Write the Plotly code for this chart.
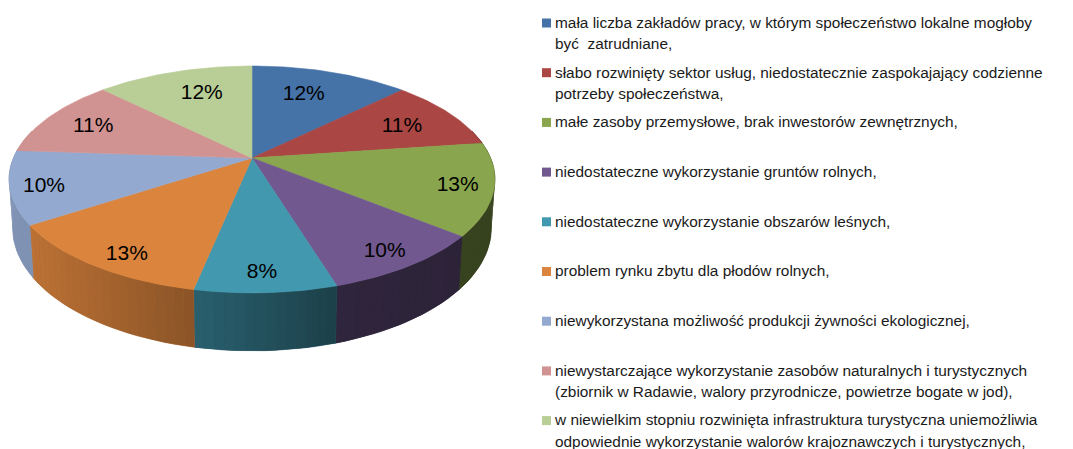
import math
import plotly.graph_objects as go

# Data
categories = [
    ["mała liczba zakładów pracy, w którym społeczeństwo lokalne mogłoby", "być  zatrudniane,"],
    ["słabo rozwinięty sektor usług, niedostatecznie zaspokajający codzienne", "potrzeby społeczeństwa,"],
    ["małe zasoby przemysłowe, brak inwestorów zewnętrznych,"],
    ["niedostateczne wykorzystanie gruntów rolnych,"],
    ["niedostateczne wykorzystanie obszarów leśnych,"],
    ["problem rynku zbytu dla płodów rolnych,"],
    ["niewykorzystana możliwość produkcji żywności ekologicznej,"],
    ["niewystarczające wykorzystanie zasobów naturalnych i turystycznych", "(zbiornik w Radawie, walory przyrodnicze, powietrze bogate w jod),"],
    ["w niewielkim stopniu rozwinięta infrastruktura turystyczna uniemożliwia", "odpowiednie wykorzystanie walorów krajoznawczych i turystycznych,"],
]
shares = [12.6, 10.2, 13.1, 9.4, 7.9, 12.5, 10.4, 11.4, 12.5]
percent_labels = ["12%", "11%", "13%", "10%", "8%", "13%", "10%", "11%", "12%"]
colors = ["#4572A7", "#AA4643", "#89A54E", "#71588F", "#4198AF", "#DB843D", "#93A9CF", "#D19392", "#B9CD96"]

# Pie geometry in canvas pixels (tilted disc seen in perspective)
CX, CY = 252, 158
A, B, K = 238.6, 109.4, 0.189
DEPTH = 47
LABEL_SHIFT = [(-10, 4), (-3, 3), (24, 4), (18, 15), (0, 18), (-10, 19), (-26, 7), (-3, 1), (11, 4)]


def project(angle, r=1.0):
    u, v = r * math.sin(angle), r * math.cos(angle)
    w = 1 + K * v
    return CX + A * u / w, CY - B * v / w


def project_low(angle):
    u, v = math.sin(angle), math.cos(angle)
    w = 1 + K * v
    x = CX + 0.985 * A * u / w
    return x, CY - B * v / w + DEPTH / w


def shade(x):
    knots = [(10, .87), (30, .86), (195, .63), (336, .42), (460, .40), (500, .40)]
    for (x0, s0), (x1, s1) in zip(knots, knots[1:]):
        if x <= x1:
            return s0 + (s1 - s0) * (max(x, x0) - x0) / (x1 - x0)
    return knots[-1][1]


def scaled(color, s):
    r, g, b = (int(color[i:i + 2], 16) for i in (1, 3, 5))
    return f"rgb({r * s:.0f},{g * s:.0f},{b * s:.0f})"


fig = go.Figure()


def polygon(pts, color, width=0.6):
    xs = [p[0] for p in pts] + [pts[0][0]]
    ys = [p[1] for p in pts] + [pts[0][1]]
    fig.add_trace(go.Scatter(x=xs, y=ys, mode="lines", fill="toself", fillcolor=color,
                             line=dict(color=color, width=width), hoverinfo="skip", showlegend=False))


total = sum(shares)
edges = [0.0]
for s in shares:
    edges.append(edges[-1] + s / total * 2 * math.pi)

# Side wall: only the front half is visible
for i, c in enumerate(colors):
    a0, a1 = max(edges[i], math.radians(75)), min(edges[i + 1], math.radians(285))
    if a1 <= a0:
        continue
    n = max(1, int((a1 - a0) / math.radians(2)))
    steps = [a0 + (a1 - a0) * j / n for j in range(n + 1)]
    wall = [project(a) for a in steps] + [project_low(a) for a in reversed(steps)]
    polygon(wall, scaled(c, shade(project((a0 + a1) / 2)[0])))
    for p, q in zip(steps, steps[1:]):
        pts = [project(p), project(q), project_low(q), project_low(p)]
        polygon(pts, scaled(c, shade((pts[0][0] + pts[1][0]) / 2)), width=0)

# Top face
for i, c in enumerate(colors):
    n = max(2, int((edges[i + 1] - edges[i]) / math.radians(1)))
    arc = [project(edges[i] + (edges[i + 1] - edges[i]) * j / n) for j in range(n + 1)]
    polygon([(CX, CY)] + arc, c)

# Percent labels
mids = [(edges[i] + edges[i + 1]) / 2 for i in range(len(shares))]
pos = [project(m, 0.76) for m in mids]
fig.add_trace(go.Scatter(x=[p[0] + d[0] for p, d in zip(pos, LABEL_SHIFT)],
                         y=[p[1] + d[1] for p, d in zip(pos, LABEL_SHIFT)],
                         text=percent_labels, mode="text", textposition="middle center",
                         textfont=dict(family="Liberation Sans", size=21, color="#000000"),
                         hoverinfo="skip", showlegend=False))

# Legend
LEG_X, LEG_Y, LEG_STEP, LINE = 546.5, 23, 49.7, 21.5
fig.add_trace(go.Scatter(x=[LEG_X] * len(colors), y=[LEG_Y + LEG_STEP * i for i in range(len(colors))],
                         mode="markers", marker=dict(symbol="square", size=9, color=colors, line=dict(width=0)),
                         hoverinfo="skip", showlegend=False))
tx, ty, tt = [], [], []
for i, lines in enumerate(categories):
    for j, line in enumerate(lines):
        tx.append(555)
        ty.append(LEG_Y + 1 + LEG_STEP * i + LINE * j)
        tt.append(line)
fig.add_trace(go.Scatter(x=tx, y=ty, text=tt, mode="text", textposition="middle right",
                         textfont=dict(family="Liberation Sans", size=15.4, color="#1a1a1a"),
                         hoverinfo="skip", showlegend=False))

fig.update_layout(
    width=1073, height=449, margin=dict(l=0, r=0, t=0, b=0),
    paper_bgcolor="white", plot_bgcolor="white", showlegend=False,
    xaxis=dict(range=[0, 1073], visible=False, fixedrange=True),
    yaxis=dict(range=[449, 0], visible=False, fixedrange=True),
)
fig.write_html("out.html", config=dict(displayModeBar=False, responsive=False),
               post_script="document.body.style.margin='0';document.documentElement.style.overflow='hidden';")
